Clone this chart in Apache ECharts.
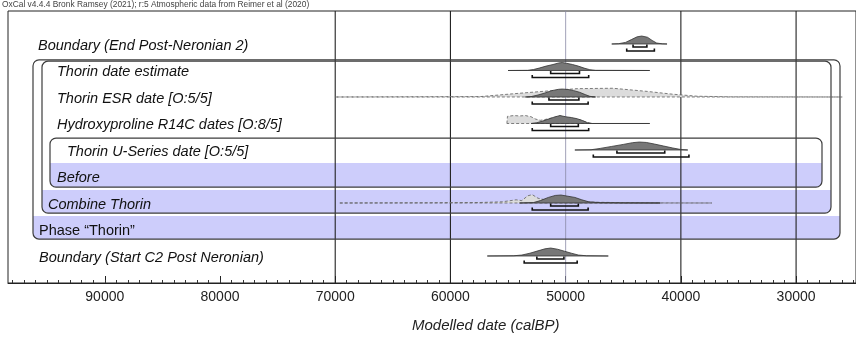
<!DOCTYPE html>
<html>
<head>
<meta charset="utf-8">
<title>OxCal Thorin</title>
<script src="https://cdn.jsdelivr.net/npm/echarts@6/dist/echarts.min.js"></script>
</head>
<body style="margin:0;background:#fff">
<div id="main" style="width:856px;height:344px;"></div>
<script>
// row labels, top to bottom
var rowNames = ['Boundary (End Post-Neronian 2)', 'Thorin date estimate', 'Thorin ESR date [O:5/5]',
  'Hydroxyproline R14C dates [O:8/5]', 'Thorin U-Series date [O:5/5]', 'Before', 'Combine Thorin',
  'Phase \u201cThorin\u201d', 'Boundary (Start C2 Post Neronian)'];

// [calBP, relative probability]
var endPost = [[46000,0],[45400,0.04],[44800,0.2],[44300,0.55],[43800,0.9],[43400,1],[42900,0.85],[42500,0.45],[42100,0.12],[41600,0.02],[41200,0]];
var estPost = [[55000,0],[53300,0.02],[52800,0.12],[52300,0.3],[51700,0.55],[51100,0.75],[50600,0.95],[50300,1],[49900,0.9],[49400,0.75],[48900,0.55],[48400,0.3],[47900,0.1],[47400,0.02],[42700,0]];
var esrPrior = [[70000,0],[57400,0.05],[54600,0.4],[51600,0.75],[49000,1.05],[45900,1.1],[42900,0.7],[40700,0.35],[38600,0.1],[35700,0.02],[26000,0]];
var esrPost = [[53500,0],[53000,0.05],[52400,0.25],[51800,0.5],[51200,0.8],[50600,0.97],[50300,1],[49800,0.95],[49300,0.8],[48800,0.6],[48300,0.3],[47900,0.08],[47400,0]];
var hydPrior = [[55100,0],[55050,0.9],[54500,1.0],[54000,0.95],[53500,1.0],[53000,0.85],[52600,0.55],[52200,0.4],[51800,0.5],[51200,0.7],[50500,0.95],[49900,0.75],[49300,0.6],[48700,0.45],[48200,0.15],[47800,0]];
var hydPost = [[53000,0],[52500,0.1],[52000,0.3],[51500,0.55],[51000,0.8],[50500,1],[50000,0.85],[49500,0.75],[49000,0.6],[48500,0.35],[48100,0.1],[47700,0],[42700,0]];
var usPost = [[49200,0],[47800,0.03],[47000,0.2],[46000,0.45],[45000,0.7],[44200,0.92],[43600,1],[43000,0.95],[42300,0.75],[41500,0.5],[40700,0.25],[40000,0.06],[39400,0]];
var combPrior = [[69600,0],[62000,0.03],[57500,0.06],[55500,0.15],[54300,0.4],[53800,0.3],[53300,0.9],[52900,1.05],[52400,0.6],[51800,0.4],[51000,0.3],[49500,0.2],[47500,0.1],[45000,0.04],[41800,0.01],[37300,0]];
var combPost = [[54000,0],[52800,0.05],[52200,0.3],[51500,0.7],[50900,0.95],[50400,1],[49800,0.85],[49200,0.7],[48600,0.4],[48000,0.15],[47000,0.04],[45000,0.01],[41800,0]];
var startPost = [[56800,0],[54500,0.03],[53800,0.12],[53100,0.35],[52400,0.65],[51800,0.9],[51300,1],[50700,0.85],[50100,0.6],[49500,0.35],[48900,0.12],[48200,0.03],[46300,0]];

// 68.3% and 95.4% ranges
var range68 = [[44150,42950],[51300,48800],[51450,48850],[51300,48900],[45550,41400],null,[51300,48900],null,[52500,50150]];
var range95 = [[44700,42300],[52900,48000],[52900,48050],[52900,48000],[47600,39300],null,[52900,48050],null,[53600,49000]];

var tickLabels = [90000, 80000, 70000, 60000, 50000, 40000, 30000];
var gridDark = [70000, 60000, 40000, 30000];
var gridLight = [50000];

var posts = [endPost, estPost, esrPost, hydPost, usPost, null, combPost, null, startPost];
var priors = [null, null, esrPrior, hydPrior, null, null, combPrior, null, null];

var minorTicks = [];
for (var t = 25000; t <= 98000; t += 1000) minorTicks.push(t);

var H = 0.3;
var indent = [30, 49, 49, 49, 59, 49, 40, 31, 31];
// bracket boxes: top/bottom in row units, left/right insets in px
var boxes = [
  {top: 0.6, bottom: 7.36, l: 25, r: 16},
  {top: 0.65, bottom: 6.38, l: 34, r: 25},
  {top: 3.55, bottom: 5.40, l: 42, r: 34}
];
var bands = [
  {top: 4.49, bottom: 5.40, l: 42, r: 34},
  {top: 5.51, bottom: 6.38, l: 34, r: 25},
  {top: 6.49, bottom: 7.36, l: 25, r: 16}
];

function shape(api, r, pts, style) {
  var p = pts.map(function (d) { return api.coord([d[0], r - d[1] * H]); });
  p.push(api.coord([pts[pts.length - 1][0], r]));
  p.push(api.coord([pts[0][0], r]));
  return {type: 'polygon', shape: {points: p}, style: style};
}
function bracket(api, r, rg, off) {
  var a = api.coord([rg[0], r]), b = api.coord([rg[1], r]);
  var y = a[1] + off;
  return {type: 'polyline', shape: {points: [[a[0], y - 2.5], [a[0], y], [b[0], y], [b[0], y - 2.5]]},
    style: {stroke: '#111', lineWidth: 1.6, fill: null}};
}

var chart = echarts.init(document.getElementById('main'));
chart.setOption({
  animation: false,
  title: {
    text: 'OxCal v4.4.4 Bronk Ramsey (2021); r:5 Atmospheric data from Reimer et al (2020)',
    left: 2, top: 0.5, padding: 0,
    textStyle: {fontSize: 8.4, fontWeight: 'normal', color: '#444', fontFamily: 'Liberation Sans, Arial'}
  },
  grid: {left: 8, right: 0, top: 11, bottom: 61, show: true, borderColor: '#222', borderWidth: 1},
  xAxis: [{
    type: 'value', inverse: true, min: 24800, max: 98400,
    axisLine: {onZero: false, lineStyle: {color: '#222'}},
    axisTick: {inside: true, length: 7, customValues: tickLabels, lineStyle: {color: '#222'}},
    axisLabel: {customValues: tickLabels, margin: 7, fontSize: 14, color: '#222', fontFamily: 'Liberation Sans, Arial',
      formatter: function (v) { return String(v); }},
    splitLine: {show: false}
  }, {
    type: 'value', inverse: true, min: 24800, max: 98400, position: 'bottom',
    axisLine: {show: false, onZero: false},
    axisTick: {inside: true, length: 3, customValues: minorTicks, lineStyle: {color: '#333'}},
    axisLabel: {show: false},
    splitLine: {show: false}
  }],
  yAxis: {type: 'value', inverse: true, min: -1.245, max: 9.019, show: false},
  graphic: [{
    type: 'text', left: 485 - 73, top: 318,
    style: {text: 'Modelled date (calBP)', fontSize: 15, fontStyle: 'italic', fill: '#222', fontFamily: 'Liberation Sans, Arial'}
  }],
  series: [{
    // shaded bands
    type: 'custom', z: 1, silent: true, data: [[0]],
    renderItem: function (params, api) {
      var cs = params.coordSys, ch = [];
      bands.forEach(function (b) {
        var y0 = api.coord([0, b.top])[1], y1 = api.coord([0, b.bottom])[1];
        ch.push({type: 'rect', shape: {x: cs.x + b.l, y: y0, width: cs.width - b.l - b.r, height: y1 - y0, r: [0, 0, 6, 6]},
          style: {fill: '#cdcdfb'}});
      });
      return {type: 'group', children: ch};
    }
  }, {
    type: 'custom', z: 2, silent: true, data: gridDark.concat(gridLight),
    renderItem: function (params, api) {
      var v = api.value(0), cs = params.coordSys;
      var x = api.coord([v, 0])[0];
      var light = gridLight.indexOf(v) >= 0;
      return {type: 'line', shape: {x1: x, y1: cs.y, x2: x, y2: cs.y + cs.height},
        style: {stroke: light ? '#8a8aa6' : '#222', lineWidth: light ? 0.8 : 1.1}};
    }
  }, {
    type: 'custom', z: 3, silent: true, data: [[0]],
    renderItem: function (params, api) {
      var cs = params.coordSys, ch = [];
      boxes.forEach(function (b) {
        var y0 = api.coord([0, b.top])[1], y1 = api.coord([0, b.bottom])[1];
        ch.push({type: 'rect', shape: {x: cs.x + b.l, y: y0, width: cs.width - b.l - b.r, height: y1 - y0, r: 6},
          style: {fill: null, stroke: '#3c3c3c', lineWidth: 1.2}});
      });
      return {type: 'group', children: ch};
    }
  }, {
    type: 'custom', z: 4, silent: true, clip: false,
    data: rowNames.map(function (n, i) { return [i]; }),
    renderItem: function (params, api) {
      var r = api.value(0), ch = [];
      if (priors[r]) ch.push(shape(api, r, priors[r], {fill: '#dcdcdc', stroke: '#606060', lineWidth: 0.8, lineDash: [3, 2]}));
      if (posts[r]) ch.push(shape(api, r, posts[r], {fill: '#777', stroke: '#333', lineWidth: 0.8}));
      if (range68[r]) ch.push(bracket(api, r, range68[r], 3));
      if (range95[r]) ch.push(bracket(api, r, range95[r], 7));
      return {type: 'group', children: ch};
    }
  }, {
    type: 'custom', z: 5, silent: true, clip: false,
    data: rowNames.map(function (n, i) { return [i]; }),
    renderItem: function (params, api) {
      var r = api.value(0);
      var y = api.coord([0, r])[1] + 1.5;
      return {type: 'text', x: params.coordSys.x + indent[r], y: y,
        style: {text: rowNames[r], fontSize: 14.5, fontStyle: r === 7 ? 'normal' : 'italic',
          fontFamily: 'Liberation Sans, Arial', fill: '#111', verticalAlign: 'middle', align: 'left'}};
    }
  }]
});
</script>
</body>
</html>
